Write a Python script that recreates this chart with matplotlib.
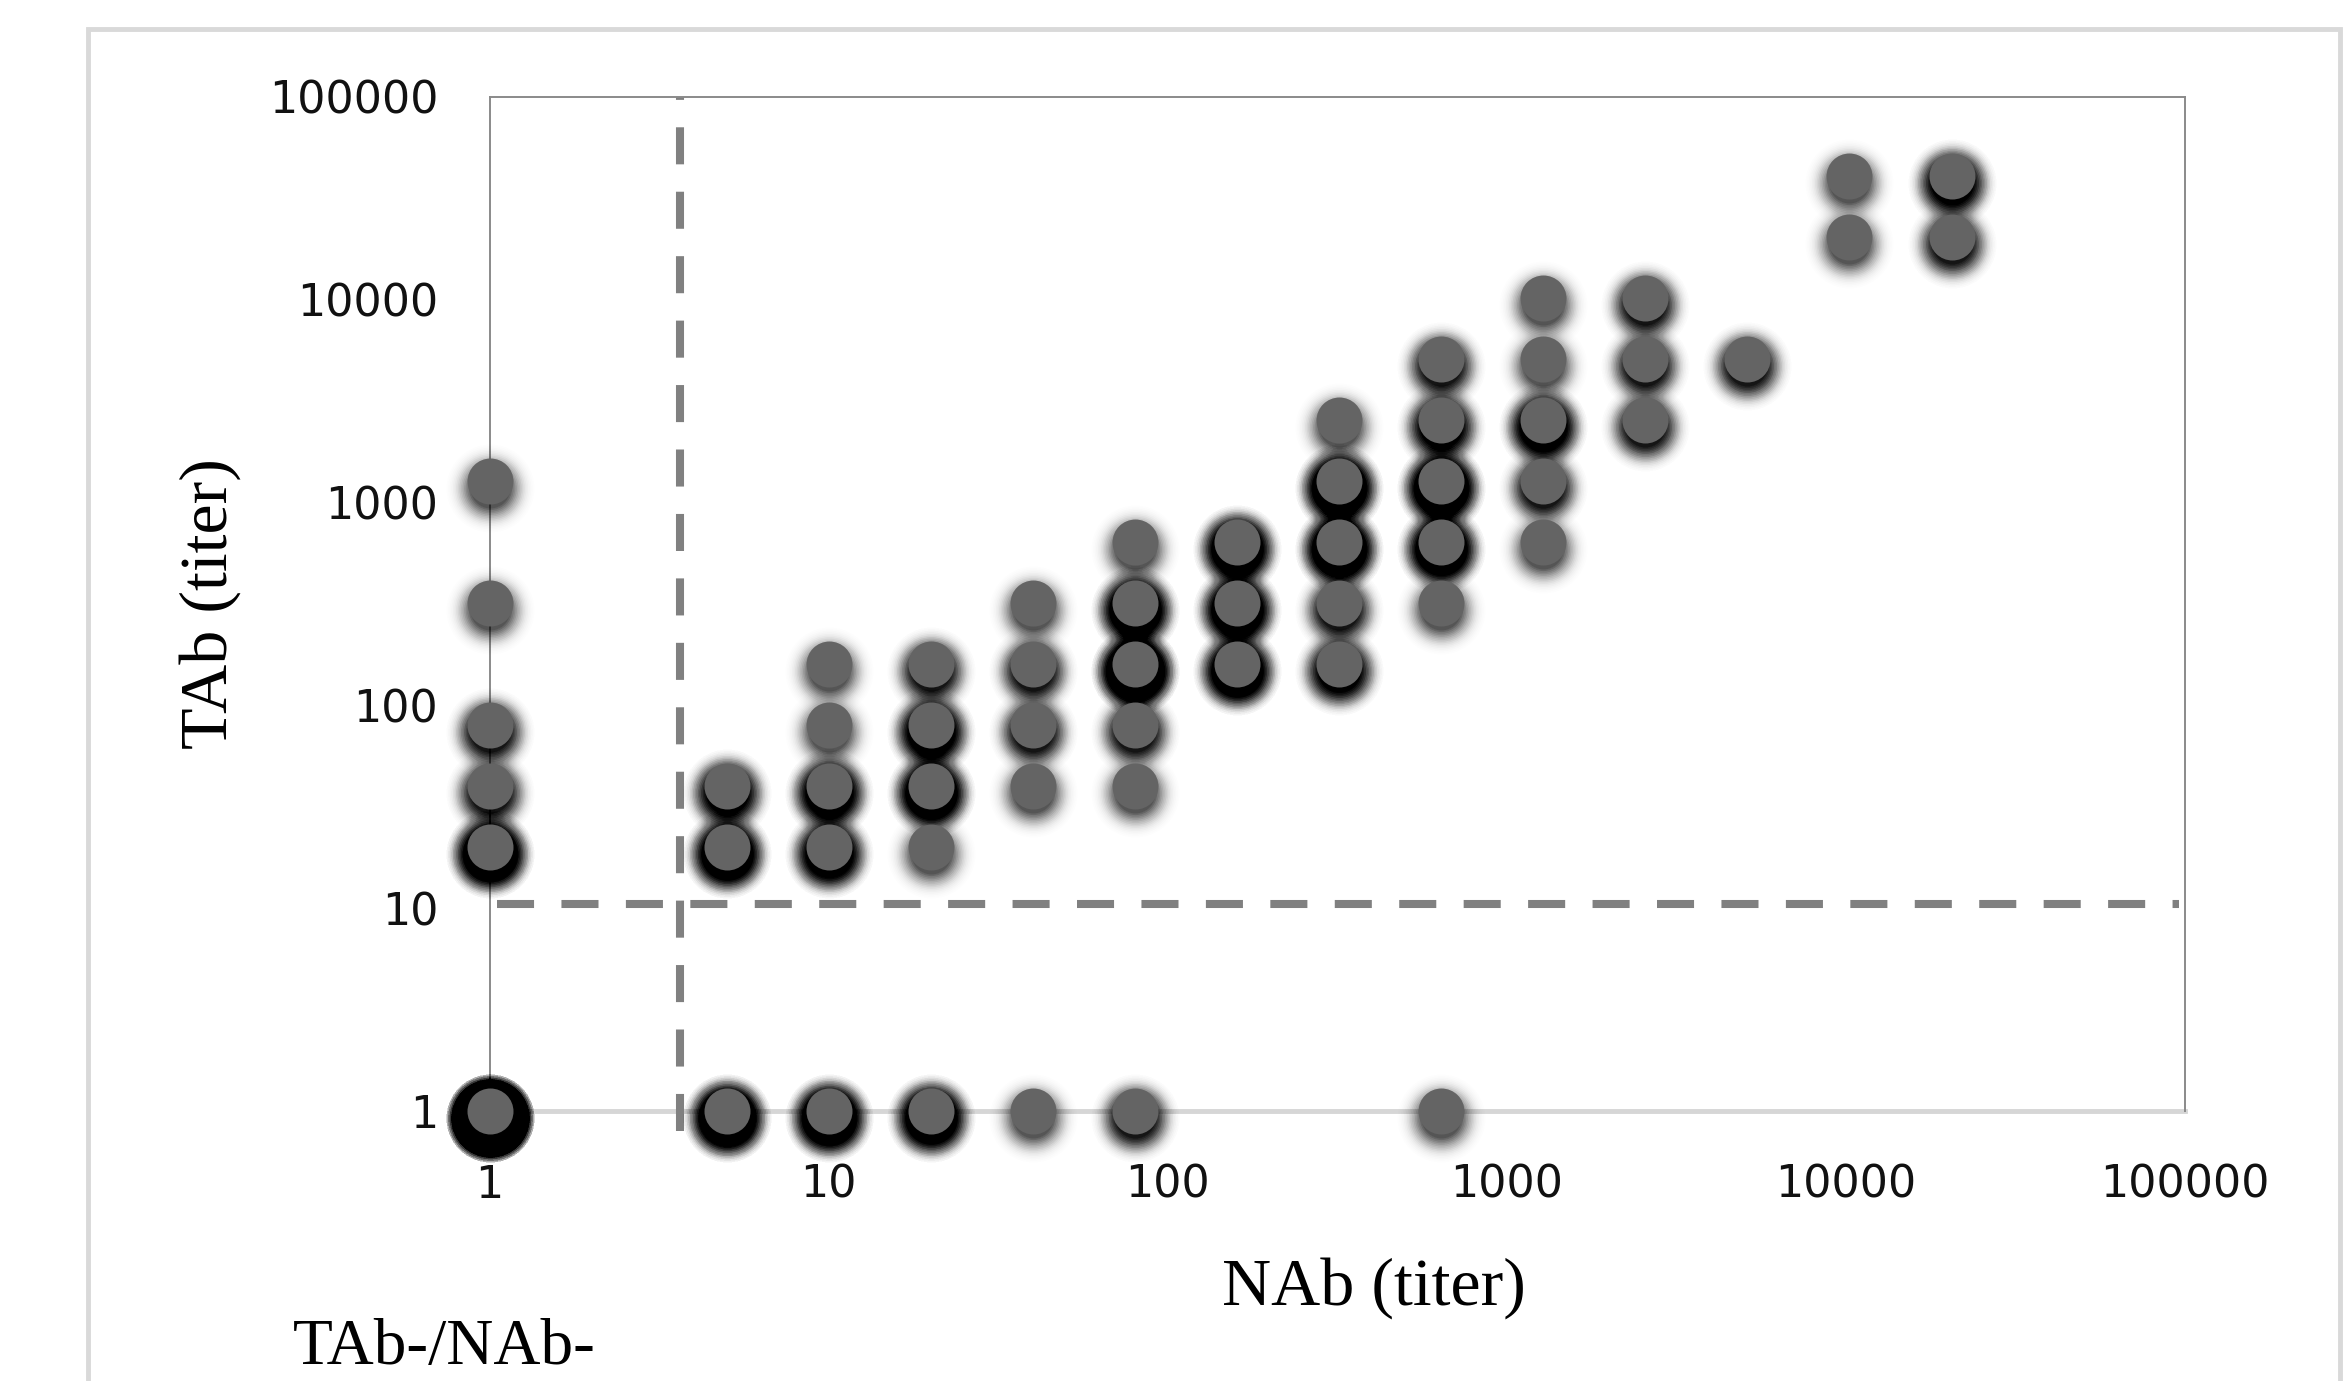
import numpy as np
import matplotlib.pyplot as plt
from matplotlib import transforms
from matplotlib.patches import Rectangle

# NAb titer, TAb titer, number of sera at that point (overlapping markers)
nab_titer = [1, 1, 1, 1, 1, 1,
             5, 5, 5,
             10, 10, 10, 10, 10,
             20, 20, 20, 20, 20,
             40, 40, 40, 40, 40,
             80, 80, 80, 80, 80, 80,
             160, 160, 160,
             320, 320, 320, 320, 320,
             640, 640, 640, 640, 640, 640,
             1280, 1280, 1280, 1280, 1280,
             2560, 2560, 2560,
             5120,
             10240, 10240,
             20480, 20480]
tab_titer = [1, 20, 40, 80, 320, 1280,
             1, 20, 40,
             1, 20, 40, 80, 160,
             1, 20, 40, 80, 160,
             1, 40, 80, 160, 320,
             1, 40, 80, 160, 320, 640,
             160, 320, 640,
             160, 320, 640, 1280, 2560,
             1, 320, 640, 1280, 2560, 5120,
             640, 1280, 2560, 5120, 10240,
             2560, 5120, 10240,
             5120,
             20480, 40960,
             20480, 40960]
n_sera = [40, 6, 2, 2, 1, 1,
          7, 5, 3,
          6, 4, 4, 1, 1,
          5, 1, 5, 4, 2,
          1, 1, 2, 2, 1,
          2, 1, 2, 8, 5, 1,
          5, 5, 5,
          3, 2, 6, 6, 1,
          1, 1, 5, 6, 3, 2,
          1, 2, 4, 1, 1,
          2, 2, 2,
          2,
          1, 1,
          2, 3]

nab_cut = 3.65    # vertical threshold line
tab_cut = 10.5    # horizontal threshold line

fig = plt.figure(figsize=(23.47, 13.81), dpi=100)
ax = fig.add_axes([0.2086, 0.1955, 0.931 - 0.2086, 0.9298 - 0.1955])
ax.set_xscale('log')
ax.set_yscale('log')
ax.set_xlim(1, 100000)
ax.set_ylim(1, 100000)

# outer chart border
fig.patches.append(Rectangle((0.0375, -0.05), 0.9595, 1.029, transform=fig.transFigure,
                             fill=False, edgecolor='#d9d9d9', linewidth=3.5))

# threshold lines
ax.plot([1.05, 96000], [tab_cut, tab_cut], color='#808080', lw=5.8,
        dashes=(4.6, 3.4), zorder=2)
ax.plot([nab_cut, nab_cut], [0.8, 100000], color='#808080', lw=5.8,
        dashes=(4.6, 3.4), zorder=2, clip_on=False)

# markers with a soft shadow, repeated once per serum so overlaps get darker
xs = np.repeat(nab_titer, n_sera)
ys = np.repeat(tab_titer, n_sera)
shadow = ax.transData + transforms.ScaledTranslation(0, -0.07, fig.dpi_scale_trans)
D = 46  # marker diameter, px
L = 16
for k in range(L):
    d = (D - 6 + 3.2 * k) * 0.72
    a = 0.15 * (1 - k / L) ** 2 + 0.006
    ax.scatter(xs, ys, s=d ** 2, color='black', alpha=a, linewidths=0,
               transform=shadow, zorder=3, clip_on=False)
ax.scatter(nab_titer, tab_titer, s=(D * 0.72) ** 2, color='#646464', linewidths=0,
           zorder=4, clip_on=False)

# axes look
for side in ['top', 'right', 'left']:
    ax.spines[side].set_color('#8a8a8a')
    ax.spines[side].set_linewidth(1.4)
ax.spines['bottom'].set_color('#d6d6d6')
ax.spines['bottom'].set_linewidth(3.5)
ax.spines['bottom'].set_zorder(1)

ticks = [1, 10, 100, 1000, 10000, 100000]
ax.set_xticks(ticks)
ax.set_yticks(ticks)
ax.set_xticklabels([str(t) for t in ticks])
ax.set_yticklabels([str(t) for t in ticks])
ax.minorticks_off()
ax.tick_params(axis='both', length=0, labelsize=32, colors='#111111')
ax.tick_params(axis='x', pad=38)
ax.tick_params(axis='y', pad=37)

serif = 'Liberation Serif'
fig.text(0.5854, 0.055, 'NAb (titer)', family=serif, fontsize=49,
         ha='center', va='baseline')
fig.text(0.0895, 0.5626, 'TAb (titer)', family=serif, fontsize=49,
         ha='center', va='center', rotation=90)
fig.text(0.1248, 0.012, 'TAb-/NAb-', family=serif, fontsize=47,
         ha='left', va='baseline')

fig.savefig('out.png', dpi=100)
